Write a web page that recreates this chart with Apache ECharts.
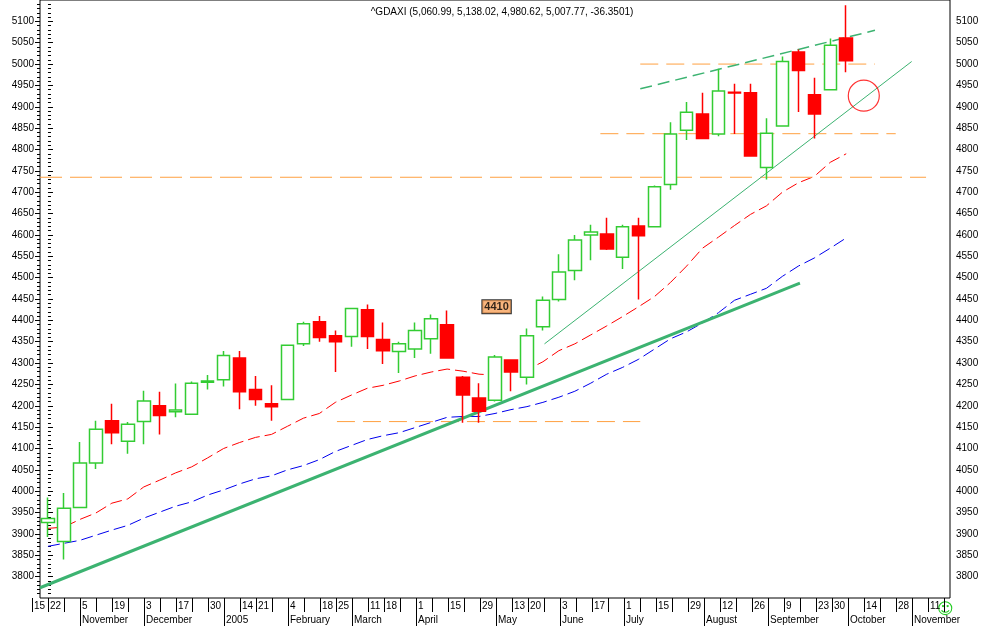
<!DOCTYPE html>
<html>
<head>
<meta charset="utf-8">
<script src="https://cdn.jsdelivr.net/npm/echarts@6/dist/echarts.min.js"></script>
<style>html,body{margin:0;padding:0;background:#fff;}#chart{width:994px;height:626px;}</style>
</head>
<body>
<div id="chart"></div>
<script>
// weekly bars, Friday dates from 22 Oct 2004
var weeks = [];
(function () {
    var d = new Date(2004, 9, 22);
    for (var i = 0; i < 57; i++) {
        weeks.push(d.getFullYear() + '-' + (d.getMonth() + 1) + '-' + d.getDate());
        d.setDate(d.getDate() + 7);
    }
})();

// open, high, low, close
var opens  = [3927,3882,3962,4066,4165,4117,4163,4200,4186,4180,4255,4261,4312,4238,4205,4215,4345,4397,4364,4362,4425,4355,4327,4333,4357,4390,4267,4218,4213,4307,4267,4385,4449,4517,4600,4602,4548,4621,4619,4718,4845,4883,4836,4934,4933,4758,4855,5028,4928,4940,5061];
var highs  = [3985,3996,4115,4165,4205,4162,4235,4233,4252,4257,4272,4328,4328,4270,4248,4343,4397,4410,4376,4428,4437,4395,4350,4395,4414,4423,4270,4253,4319,4308,4381,4456,4555,4600,4624,4640,4624,4640,4716,4864,4911,4933,4989,4954,4954,4873,5018,5034,4968,5060,5138];
var lows   = [3893,3840,3960,4052,4110,4088,4110,4133,4173,4180,4238,4245,4192,4200,4165,4213,4340,4350,4279,4338,4333,4298,4277,4312,4322,4310,4160,4160,4210,4234,4250,4376,4444,4494,4541,4565,4520,4449,4619,4706,4822,4826,4831,4836,4785,4730,4853,4888,4826,4938,4981];
var closes = [3936,3960,4066,4145,4137,4157,4211,4177,4190,4253,4258,4318,4233,4215,4198,4342,4392,4360,4350,4428,4362,4329,4345,4376,4404,4312,4225,4187,4314,4279,4364,4447,4513,4588,4607,4567,4619,4598,4713,4836,4887,4826,4937,4932,4785,4838,5006,4985,4883,5044,5008];

var maShort = [3913,3916,3934,3949,3972,3982,4010,4026,4043,4057,4078,4100,4114,4126,4133,4152,4171,4182,4208,4225,4241,4248,4258,4270,4279,4286,4281,4274,4272,4284,4284,4303,4329,4345,4366,4387,4409,4432,4456,4489,4527,4569,4595,4622,4648,4668,4700,4722,4737,4770,4790];
var maLong  = [3871,3878,3885,3897,3909,3920,3937,3951,3965,3975,3991,4003,4017,4029,4036,4050,4060,4074,4093,4107,4121,4130,4137,4149,4161,4173,4175,4175,4182,4191,4198,4208,4220,4234,4253,4274,4290,4309,4333,4357,4373,4394,4418,4447,4461,4475,4503,4527,4546,4569,4593];

// bottom scale, one slot per week starting 15 Oct 2004
var dayLabels = ['15','22','','5','','19','','3','','17','','30','','14','21','','4','','18','25','','11','18','','1','','15','','29','','13','20','','3','','17','','1','','15','','29','','12','','26','','9','','23','30','','14','','28','','11',''];
var monthLabels = {3:'November',7:'December',12:'2005',16:'February',20:'March',24:'April',29:'May',33:'June',37:'July',42:'August',46:'September',51:'October',55:'November'};
var priceTicks = [];
for (var p = 3800; p <= 5100; p += 50) priceTicks.push(p);

// drawn studies: [weekIndex, price]
var trendMain   = [[-0.5, 3774], [47.1, 4487]];
var trendSteep  = [[31.1, 4345], [54.1, 5006]];
var trendUpper  = [[37.1, 4942], [51.8, 5079]];
var levelLow    = [[18.1, 4163], [37.1, 4163]];
var levelMid    = [[-0.5, 4735], [55.0, 4735]];
var levelHigh   = [[34.6, 4837], [53.1, 4837]];
var levelTop    = [[37.1, 5000], [51.8, 5000]];
var circleMark  = [[51.1, 4926]];
var priceNote   = [[28.1, 4432]];

var font = 'Liberation Sans';
var myChart = echarts.init(document.getElementById('chart'));

var candleData = [];
for (var i = 0; i < opens.length; i++) candleData.push([opens[i], closes[i], lows[i], highs[i]]);

function study(data, color, width, type) {
    return {
        type: 'line', xAxisIndex: 1, yAxisIndex: 0, data: data, symbol: 'none',
        silent: true, lineStyle: {color: color, width: width, type: type}, z: 3
    };
}

function priceAxis(pos) {
    return {type: 'value', gridIndex: 0, position: pos, min: 3750, max: 5150, interval: 50,
        axisLine: {show: false}, splitLine: {show: false},
        axisTick: {show: true, length: 5, customValues: priceTicks, lineStyle: {color: '#000'}},
        minorTick: {show: true, splitNumber: 5, length: 3, lineStyle: {color: '#000'}},
        axisLabel: {customValues: priceTicks, margin: 6, fontFamily: font, fontSize: 10, color: '#000',
                    formatter: function (v) { return String(v); }}};
}

var option = {
    animation: false,
    backgroundColor: '#fff',
    title: {
        text: '^GDAXI (5,060.99, 5,138.02, 4,980.62, 5,007.77, -36.3501)',
        left: 497, top: 2, textAlign: 'center',
        textStyle: {fontFamily: font, fontSize: 10, fontWeight: 'normal', color: '#000'}
    },
    graphic: [{
        type: 'text', left: 937, top: 602,
        style: {text: '\u263A', fill: '#22cc22', font: '16px DejaVu Sans'}
    }],
    grid: [
        {left: 40, right: 44, top: 0, bottom: 28, show: true, borderColor: '#000', borderWidth: 1},
        {left: 32, width: 912, top: 598, height: 0}
    ],
    xAxis: [
        {type: 'category', gridIndex: 0, data: weeks, boundaryGap: true,
         axisLine: {show: false}, axisTick: {show: false}, axisLabel: {show: false}, splitLine: {show: false}},
        {type: 'value', gridIndex: 0, min: -0.5, max: 56.5, show: false},
        {type: 'category', gridIndex: 1, data: dayLabels, boundaryGap: false, position: 'bottom',
         axisLine: {show: false},
         axisTick: {show: true, interval: 0, length: 14, inside: false, lineStyle: {color: '#000'}},
         axisLabel: {interval: 0, align: 'left', margin: 3, padding: [0, 0, 0, 2], fontFamily: font, fontSize: 10, color: '#000'}},
        {type: 'category', gridIndex: 1, data: dayLabels, boundaryGap: false, position: 'bottom', offset: 14,
         axisLine: {show: false},
         axisTick: {show: true, length: 14, lineStyle: {color: '#000'},
                    interval: function (idx) { return monthLabels[idx] !== undefined; }},
         axisLabel: {interval: 0, align: 'left', margin: 3, padding: [0, 0, 0, 2], fontFamily: font, fontSize: 10, color: '#000',
                     formatter: function (v, idx) { return monthLabels[idx] || ''; }}}
    ],
    yAxis: [priceAxis('right'), priceAxis('left'), {type: 'value', gridIndex: 1, show: false}],
    series: [
        study(levelMid, '#ffa040', 1, [22, 8]),
        study(levelLow, '#ffa040', 1, [18, 8]),
        study(levelHigh, '#ffa040', 1, [18, 8]),
        study(levelTop, '#ffa040', 1, [18, 8]),
        study(trendMain, '#3cb371', 3, 'solid'),
        study(trendSteep, '#3cb371', 1, 'solid'),
        study(trendUpper, '#3cb371', 1.5, [12, 6]),
        {
            type: 'line', data: maShort, symbol: 'none', silent: true, z: 2,
            lineStyle: {color: '#ff0000', width: 1, type: [12, 5]}
        },
        {
            type: 'line', data: maLong, symbol: 'none', silent: true, z: 2,
            lineStyle: {color: '#0000ee', width: 1, type: [12, 5]}
        },
        {
            type: 'candlestick', data: candleData, barWidth: 13, z: 4,
            itemStyle: {
                color: '#ffffff', borderColor: '#33cc33',
                color0: '#ff0000', borderColor0: '#ff0000', borderWidth: 1.5
            }
        },
        {
            type: 'scatter', xAxisIndex: 1, data: circleMark, symbol: 'circle', symbolSize: 31, silent: true, z: 5,
            itemStyle: {color: 'rgba(0,0,0,0)', borderColor: '#ff0000', borderWidth: 1.2}
        },
        {
            type: 'scatter', xAxisIndex: 1, data: priceNote, symbolSize: 0, silent: true, z: 6,
            label: {
                show: true, position: 'inside', formatter: '4410',
                fontFamily: font, fontSize: 11, fontWeight: 'bold', color: '#000',
                backgroundColor: '#f7a35c', borderColor: '#000', borderWidth: 1, padding: [1, 2]
            }
        }
    ]
};

myChart.setOption(option);
</script>
</body>
</html>
